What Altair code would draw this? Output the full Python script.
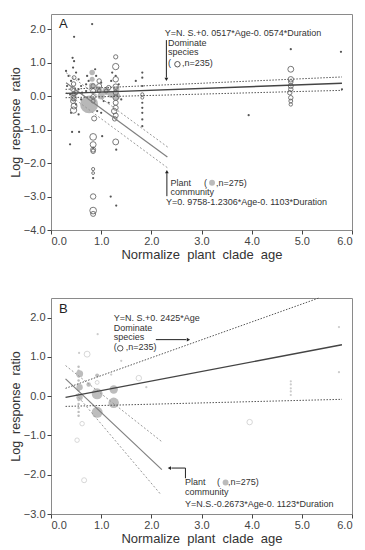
import altair as alt
import pandas as pd

FONT = "Liberation Sans"
NB = "\u00a0"

# ---------------- Panel A data ----------------
A_open_x = [0.46, 0.45, 0.44, 0.46, 0.45, 0.44, 0.46, 0.45, 0.50,
            0.84, 0.84, 0.84, 0.84, 0.86, 0.84, 0.84, 0.84, 0.84, 0.84, 0.84, 0.84, 0.84, 0.84,
            0.96, 0.96, 0.96,
            1.29, 1.29, 1.29, 1.29, 1.29, 1.29, 1.29, 1.29, 1.26, 1.29, 1.27, 1.29, 1.10, 1.15,
            1.82, 1.82,
            4.78, 4.78, 4.78, 4.78, 4.78, 4.76, 4.78, 4.78, 4.78]
A_open_y = [0.55, 0.36, 0.21, 0.06, -0.06, -0.15, -0.30, -0.42, 0.10,
            0.30, 0.15, -0.02, -0.15, -0.67, -1.22, -1.45, -1.60, -1.65, -2.18, -2.30, -3.00, -3.42, -3.52,
            0.45, 0.30, 0.15,
            1.17, 0.88, 0.50, 0.28, 0.10, -0.05, -0.20, -0.35, -0.45, -0.58, -0.68, -1.37, 0.15, 0.25,
            0.05, -0.05,
            0.80, 0.50, 0.42, 0.30, 0.20, 0.10, -0.05, -0.15, -0.25]
A_open_s = [15, 20, 25, 20, 30, 25, 35, 40, 15,
            20, 25, 20, 15, 25, 45, 35, 25, 20, 10, 8, 30, 45, 25,
            20, 25, 15,
            18, 40, 30, 30, 25, 30, 25, 25, 30, 25, 20, 35, 15, 20,
            10, 8,
            35, 30, 20, 25, 20, 20, 20, 15, 12]

A_fill_x = [0.76, 0.82, 0.82, 0.82, 0.95, 1.00, 1.10, 1.20, 1.30, 0.45, 0.45, 1.30]
A_fill_y = [-0.25, 0.70, 0.50, 0.30, 0.20, 0.00, 0.15, 0.05, 0.00, 0.05, -0.10, 0.20]
A_fill_s = [320, 30, 25, 40, 40, 50, 60, 50, 60, 30, 20, 40]

A_dot_x = [0.46, 0.43, 0.46, 0.44, 0.30, 0.35, 0.50, 0.55, 0.40, 0.60, 0.32, 0.55, 0.62, 0.38, 0.60,
           0.50, 0.40, 0.55, 0.42, 0.56, 0.38, 0.70, 0.72,
           0.82, 0.90, 0.75, 0.88, 0.70, 1.00, 1.05, 0.92, 1.02, 1.19, 1.30, 1.30, 0.84, 0.84, 1.00,
           1.29, 1.35, 1.20, 1.40, 1.15, 1.22,
           1.82, 1.82, 1.82, 1.82, 1.82, 1.82, 1.82, 1.69, 1.82,
           3.94, 4.78, 5.78, 5.80]
A_dot_y = [1.77, 1.14, 1.04, 0.85, 0.75, 0.60, 0.70, 0.50, 0.45, 0.30, 0.30, 0.20, 0.10, 0.05, -0.10,
           -0.25, -0.50, -0.55, -1.07, -1.07, -1.44, 0.35, 0.60,
           2.15, 0.60, 0.45, 0.80, 0.15, 0.40, -0.15, -0.45, -1.20, -3.00, -3.27, -1.60, -1.55, -2.45, -0.50,
           0.60, 0.35, 0.45, -0.10, -0.20, 0.70,
           0.70, 0.55, 0.30, -0.35, -0.50, -0.70, -0.90, 0.45, -0.20,
           -0.57, 1.40, 1.32, 0.20]

# regression lines (x1, y1, x2, y2)
A_dom_fit = [0.29, 0.08, 5.80, 0.38]
A_dom_ci = [[0.29, 0.20, 5.80, 0.57], [0.29, -0.05, 5.80, 0.17]]
A_com_fit = [0.30, 0.40, 2.32, -1.82]
A_com_ci = [[0.30, 0.70, 2.35, -1.55], [0.30, 0.10, 2.32, -2.14]]

# ---------------- Panel B data ----------------
B_fill_x = [0.57, 0.57, 0.57, 0.92, 0.92, 1.25, 1.25, 0.92, 0.75]
B_fill_y = [0.57, 0.23, -0.03, 0.06, -0.41, 0.17, -0.17, 0.53, 0.30]
B_fill_s = [50, 40, 40, 120, 120, 70, 110, 15, 20]

B_bar_x = [0.55] * 12
B_bar_y = [0.75, 0.65, 0.50, 0.40, 0.30, 0.15, 0.05, -0.10, -0.20, -0.30, -0.40, -0.50]

B_open_x = [0.72, 1.75, 0.62, 0.52, 0.66, 3.96, 0.92]
B_open_y = [1.07, 0.46, -0.70, -1.12, -2.14, -0.66, 0.35]
B_open_s = [35, 30, 20, 20, 25, 30, 15]

B_dot_x = [4.78, 4.78, 4.78, 4.78, 4.78, 5.74, 5.74, 1.90, 0.56, 0.93, 1.20, 1.40]
B_dot_y = [0.38, 0.30, 0.20, 0.12, 0.03, 1.76, 0.61, 0.23, 1.10, 1.58, 0.55, 0.90]

B_dom_fit = [0.29, -0.03, 5.80, 1.31]
B_dom_ci = [[0.29, 0.20, 5.34, 2.50], [0.29, -0.26, 5.80, -0.08]]
B_com_fit = [0.29, 0.44, 2.21, -1.87]
B_com_ci = [[0.29, 0.78, 2.22, -1.17], [0.50, 0.05, 2.18, -2.49]]

X_TICKS = [0, 1, 2, 3, 4, 5, 6]
A_Y_TICKS = [-4, -3, -2, -1, 0, 1, 2]
B_Y_TICKS = [-3, -2, -1, 0, 1, 2]

X_TITLE = NB.join(["Normalize", "", "plant", "", "clade", "", "age"])
Y_TITLE = NB.join(["Log", "", "response", "", "ratio"])


def seg_df(rows):
    return pd.DataFrame(rows, columns=["x", "y", "x2", "y2"])


def make_panel(ydom, yticks, opens, fills, dots, lines, ann, arrows, heads, sym, label, height,
               open_color, dot_color, fill_color, extra=None):
    xs = alt.Scale(domain=[0, 6], nice=False, zero=False)
    ys = alt.Scale(domain=ydom, nice=False, zero=False)
    xax = alt.Axis(values=X_TICKS, format=".1f", title=X_TITLE)
    yax = alt.Axis(values=yticks, format=".1f", title=Y_TITLE)

    def X(f="x"):
        return alt.X(f + ":Q", scale=xs, axis=xax)

    def Y(f="y"):
        return alt.Y(f + ":Q", scale=ys, axis=yax)

    layers = []

    if extra is not None:
        ex, ey = extra
        layers.append(alt.Chart(pd.DataFrame({"x": ex, "y": ey})).mark_circle(
            size=6, color=fill_color, opacity=1).encode(x=X(), y=Y()))

    fx, fy, fs = fills
    layers.append(alt.Chart(pd.DataFrame({"x": fx, "y": fy, "s": fs})).mark_circle(
        color=fill_color, opacity=1).encode(x=X(), y=Y(), size=alt.Size("s:Q", scale=None)))
    dx, dy = dots
    layers.append(alt.Chart(pd.DataFrame({"x": dx, "y": dy})).mark_circle(
        size=5, color=dot_color, opacity=1).encode(x=X(), y=Y()))
    ox, oy, osz = opens
    layers.append(alt.Chart(pd.DataFrame({"x": ox, "y": oy, "s": osz})).mark_point(
        shape="circle", filled=False, color=open_color, strokeWidth=0.9, opacity=1).encode(
        x=X(), y=Y(), size=alt.Size("s:Q", scale=None)))

    dom_fit, dom_ci, com_fit, com_ci = lines
    layers.append(alt.Chart(seg_df(com_ci)).mark_rule(color="#9a9a9a", strokeWidth=1, strokeDash=[2, 2]).encode(
        x=X(), y=Y(), x2="x2:Q", y2="y2:Q"))
    layers.append(alt.Chart(seg_df([com_fit])).mark_rule(color="#808080", strokeWidth=1.2).encode(
        x=X(), y=Y(), x2="x2:Q", y2="y2:Q"))
    layers.append(alt.Chart(seg_df(dom_ci)).mark_rule(color="#555555", strokeWidth=1, strokeDash=[1.5, 1.5]).encode(
        x=X(), y=Y(), x2="x2:Q", y2="y2:Q"))
    layers.append(alt.Chart(seg_df([dom_fit])).mark_rule(color="#444444", strokeWidth=1.4).encode(
        x=X(), y=Y(), x2="x2:Q", y2="y2:Q"))

    # arrows
    layers.append(alt.Chart(seg_df(arrows)).mark_rule(color="#222222", strokeWidth=1).encode(
        x=X(), y=Y(), x2="x2:Q", y2="y2:Q"))
    hdf = pd.DataFrame(heads, columns=["x", "y", "shape"])
    layers.append(alt.Chart(hdf).mark_point(filled=True, size=14, color="#222222", opacity=1).encode(
        x=X(), y=Y(), shape=alt.Shape("shape:N", scale=None)))

    # annotation text
    tdf = pd.DataFrame(ann, columns=["x", "y", "t"])
    layers.append(alt.Chart(tdf).mark_text(align="left", baseline="alphabetic", font=FONT, fontSize=9,
                                           color="#333333").encode(x=X(), y=Y(), text="t:N"))
    (sox, soy), (sfx, sfy) = sym
    layers.append(alt.Chart(pd.DataFrame({"x": [sox], "y": [soy]})).mark_point(
        shape="circle", filled=False, size=30, color="#444444", strokeWidth=0.9, opacity=1).encode(x=X(), y=Y()))
    layers.append(alt.Chart(pd.DataFrame({"x": [sfx], "y": [sfy]})).mark_circle(
        size=35, color="#bbbbbb", opacity=1).encode(x=X(), y=Y()))

    lx, ly, lt = label
    layers.append(alt.Chart(pd.DataFrame({"x": [lx], "y": [ly], "t": [lt]})).mark_text(
        align="left", baseline="alphabetic", font=FONT, fontSize=13, color="#222222").encode(
        x=X(), y=Y(), text="t:N"))

    return alt.layer(*layers).properties(width=301, height=height)


A_ann = [
    [2.265, 1.79, "Y=N. S.+0. 0517*Age-0. 0574*Duration"],
    [2.33, 1.49, "Dominate"],
    [2.33, 1.22, "species"],
    [2.33, 0.90, "("],
    [2.61, 0.90, ",n=235)"],
    [2.38, -2.69, "Plant"],
    [3.05, -2.69, "("],
    [3.29, -2.69, ",n=275)"],
    [2.38, -2.96, "community"],
    [2.29, -3.25, "Y=0. 9758-1.2306*Age-0. 1103*Duration"],
]
A_arrows = [[2.30, 1.67, 2.30, 0.55], [2.31, -2.99, 2.31, -2.30]]
A_heads = [[2.30, 0.50, "triangle-down"], [2.31, -2.26, "triangle-up"]]

B_ann = [
    [1.25, 1.91, "Y=N. S.+0. 2425*Age"],
    [1.25, 1.65, "Dominate"],
    [1.25, 1.42, "species"],
    [1.25, 1.17, "("],
    [1.49, 1.17, ",n=235)"],
    [2.67, -2.26, "Plant"],
    [3.31, -2.26, "("],
    [3.53, -2.26, ",n=275)"],
    [2.67, -2.52, "community"],
    [2.67, -2.82, "Y=N.S.-0.2673*Age-0. 1123*Duration"],
]
B_arrows = [[2.09, 1.44, 2.70, 1.44], [2.68, -2.09, 2.68, -1.83], [2.68, -1.83, 2.40, -1.83]]
B_heads = [[2.74, 1.44, "triangle-right"], [2.36, -1.83, "triangle-left"]]

panel_a = make_panel(
    [-4, 2.45], A_Y_TICKS,
    (A_open_x, A_open_y, A_open_s), (A_fill_x, A_fill_y, A_fill_s), (A_dot_x, A_dot_y),
    (A_dom_fit, A_dom_ci, A_com_fit, A_com_ci),
    A_ann, A_arrows, A_heads,
    ((2.52, 0.95), (3.21, -2.59)), (0.16, 2.03, "A"), 216,
    "#6a6a6a", "#555555", "#b8b8b8")

panel_b = make_panel(
    [-3, 2.5], B_Y_TICKS,
    (B_open_x, B_open_y, B_open_s), (B_fill_x, B_fill_y, B_fill_s), (B_dot_x, B_dot_y),
    (B_dom_fit, B_dom_ci, B_com_fit, B_com_ci),
    B_ann, B_arrows, B_heads,
    ((1.38, 1.22), (3.48, -2.20)), (0.16, 2.11, "B"), 216,
    "#d2d2d2", "#cccccc", "#bdbdbd", extra=(B_bar_x, B_bar_y))

chart = alt.vconcat(panel_a, panel_b, spacing=35).properties(
    padding={"left": 0, "top": 5, "right": 0, "bottom": 0}
).configure_view(stroke="#8a8a8a", strokeWidth=1).configure_axis(
    domain=False, grid=False, tickColor="#444444", tickSize=4, labelFont=FONT, labelFontSize=11,
    labelColor="#444444", labelPadding=1, titleFont=FONT, titleFontSize=13, titleFontWeight="normal",
    titleColor="#333333"
).configure_axisY(titlePadding=1, labelPadding=2, titleFontSize=12.5).configure_axisX(titlePadding=2)

chart.save("out.html", embed_options={"renderer": "svg", "actions": False})
